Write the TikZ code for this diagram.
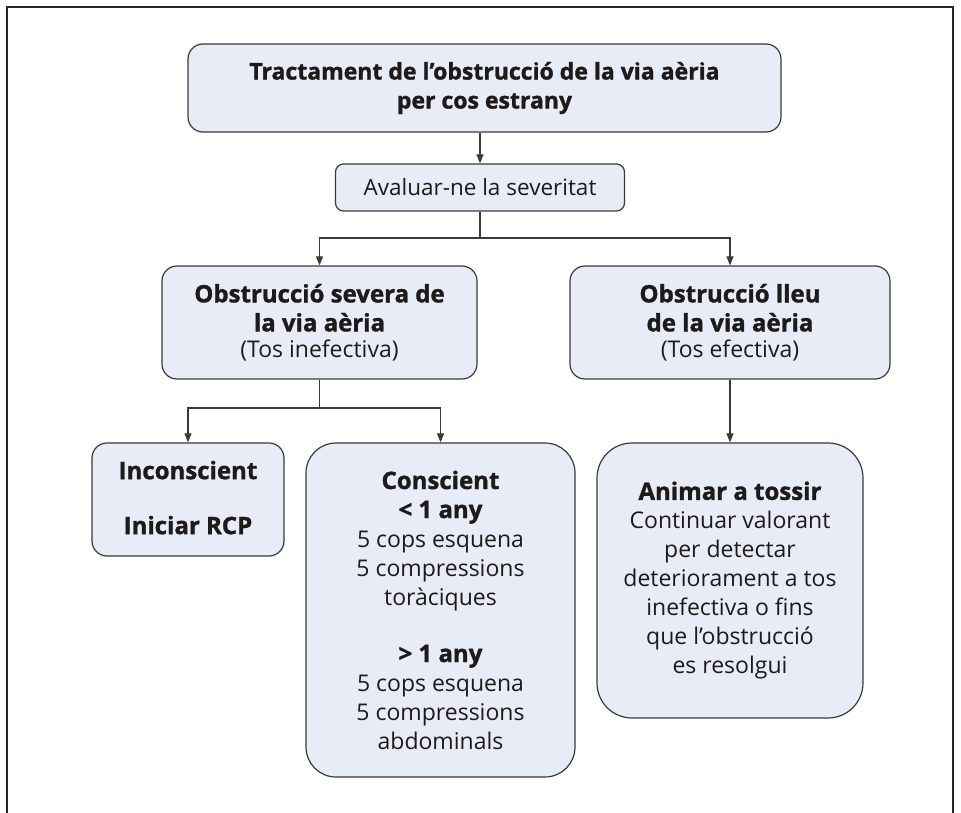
\documentclass[tikz,border=0pt]{standalone}
\usepackage{fontspec}
\setmainfont{Open Sans}[BoldFeatures={FakeBold=1.3}]
\usetikzlibrary{arrows.meta}
\definecolor{boxfill}{HTML}{E8ECF7}
\definecolor{boxline}{HTML}{3A3A3A}
\definecolor{framecol}{HTML}{262626}
\definecolor{txt}{HTML}{1E1A1A}
\tikzset{
  box/.style={draw=boxline, line width=1.2pt, fill=boxfill, rectangle,
    align=center, inner sep=0pt, text=txt, font=\fontsize{23}{29}\selectfont},
  conn/.style={draw=boxline, line width=1.1pt},
  arr/.style={conn, -{Triangle[length=9pt,width=7pt]}},
}
\newcommand{\hb}[1]{{\fontsize{24}{29}\selectfont\bfseries #1}}
\begin{document}
\begin{tikzpicture}[x=1pt,y=-1pt]
\useasboundingbox (0,0) rectangle (961,813);
% open outer frame
\draw[framecol, line width=2.6pt] (7,813) -- (7,7) -- (953,7) -- (953,813);

\node[box, rounded corners=15pt, minimum width=593pt, minimum height=88pt,
  font=\fontsize{23}{29}\selectfont\bfseries] (title) at (484.5,88)
  {Tractament de l’obstrucció de la via aèria\\per cos estrany};
\node[box, rounded corners=8pt, minimum width=289pt, minimum height=47pt,
  font=\fontsize{22.5}{29}\selectfont] (aval)
  at (480,187.5) {Avaluar-ne la severitat};
\node[box, rounded corners=15pt, minimum width=315pt, minimum height=113pt] (sev)
  at (319.5,322.5)
  {\hb{Obstrucció severa de}\\\hb{la via aèria}\\[-3pt](Tos inefectiva)};
\node[box, rounded corners=15pt, minimum width=320pt, minimum height=113pt] (lleu)
  at (730,322.5)
  {\hb{Obstrucció lleu}\\\hb{de la via aèria}\\[-3pt](Tos efectiva)};
\node[box, rounded corners=15pt, minimum width=192pt, minimum height=113pt] (incon)
  at (188,499.5) {\raisebox{4pt}{\hb{Inconscient}}\\[26pt]\raisebox{4pt}{\hb{Iniciar RCP}}};
\node[box, rounded corners=30pt, minimum width=269pt, minimum height=334pt] (consc)
  at (440.5,610)
  {\hb{Conscient}\\\hb{< 1 any}\\5 cops esquena\\5 compressions\\toràciques\\[28pt]%
   \hb{> 1 any}\\5 cops esquena\\5 compressions\\abdominals};
\node[box, rounded corners=35pt, minimum width=266pt, minimum height=275pt] (anim)
  at (730,580.5)
  {\hb{Animar a tossir}\\Continuar valorant\\per detectar\\deteriorament a tos\\inefectiva o fins\\que l’obstrucció\\es resolgui};

% connectors
\coordinate (j1) at (480,238);
\coordinate (j2) at (319.5,408);
\draw[arr] (title.south -| aval.north) -- (aval.north);
\draw[conn] (aval.south) -- (j1);
\draw[arr] (j1) -| (sev.north);
\draw[arr] (j1) -| (lleu.north);
\draw[conn] (sev.south) -- (j2);
\draw[arr] (j2) -| (incon.north);
\draw[arr] (j2) -| (consc.north);
\draw[arr] (lleu.south) -- (anim.north);
\end{tikzpicture}
\end{document}
